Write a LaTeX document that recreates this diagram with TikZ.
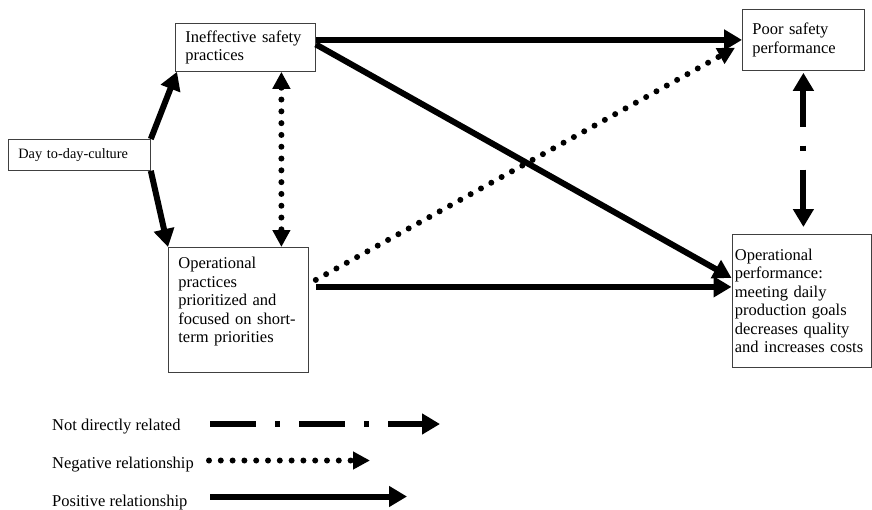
\documentclass[tikz,border=0pt]{standalone}
\usepackage{fontspec}
\setmainfont{Liberation Serif}
\usetikzlibrary{arrows.meta}

\begin{document}
\begin{tikzpicture}[x=1pt,y=-1pt,
  bigtri/.tip={Triangle[length=18pt,width=20pt]},
  dottri/.tip={Triangle[length=17pt,width=17pt]},
  box/.style={draw=black!75,line width=0.8pt,anchor=north west,align=left,inner ysep=2pt,
    font=\fontsize{16.5}{18.5}\selectfont},
  posarrow/.style={line width=6pt,-bigtri},
  negarrow/.style={line width=6pt,line cap=round,dash pattern=on 0pt off 11.8pt,-dottri},
  ndarrow/.style={line width=6pt,dash pattern=on 46pt off 19pt on 5pt off 19pt,-bigtri},
  legend/.style={anchor=base west,inner sep=0pt,font=\fontsize{16.5}{18.5}\selectfont}]
\useasboundingbox (0,0) rectangle (872,509);

% boxes
\node[box,inner xsep=10pt,text width=122pt,minimum height=31pt,font=\fontsize{14.3}{16}\selectfont] (culture) at (8,139) {Day to-day-culture};
\node[box,inner xsep=10pt,text width=120pt,minimum height=48pt] (ineff) at (175,23) {Ineffective safety\\practices};
\node[box,inner xsep=10pt,text width=120pt,minimum height=125pt] (opprac) at (168,247) {Operational\\practices\\prioritized and\\focused on short-\\term priorities\\[1pt]\mbox{}};
\node[box,inner xsep=10pt,text width=102pt,minimum height=61pt] (poorsafe) at (742,9) {Poor safety\\performance};
\node[box,inner xsep=3pt,text width=133pt,minimum height=133pt] (opperf) at (731.5,234) {Operational\\performance:\\meeting daily\\production goals\\decreases quality\\and increases costs};

% relations
\draw[posarrow] (culture.north east) -- ([xshift=2pt]ineff.south west);
\draw[posarrow] (culture.south east) -- (opprac.north west);
\draw[negarrow,dottri-dottri] ([xshift=36pt]ineff.south) -- ([xshift=36pt]ineff.south |- opprac.north);
\draw[posarrow] (ineff.east |- poorsafe.west) -- (poorsafe.west);
\draw[posarrow] ([yshift=3pt]ineff.east) -- ([yshift=23pt]opperf.west);
\draw[negarrow] ([xshift=7pt,yshift=30pt]opprac.east) -- ([xshift=-7pt,yshift=23pt]poorsafe.south west);
\draw[posarrow] ([xshift=7pt,yshift=23pt]opprac.east) -- ([yshift=23pt]opprac.east -| opperf.west);
\draw[ndarrow,bigtri-bigtri,dash phase=9pt] ([yshift=-2pt]poorsafe.south) -- ([yshift=7pt]poorsafe.south |- opperf.north);

% legend
\node[legend] (ndtext) at (52,430.5) {Not directly related};
\node[legend] (negtext) at (52,468) {Negative relationship};
\node[legend] (postext) at (52,506.5) {Positive relationship};
\coordinate (nda) at (210,424);
\coordinate (ndb) at (440,424);
\coordinate (nega) at (209,460.5);
\coordinate (negb) at (370,460.5);
\coordinate (posa) at (210,496.5);
\coordinate (posb) at (407,496.5);
\draw[ndarrow] (nda) -- (ndb);
\draw[negarrow] (nega) -- (negb);
\draw[posarrow] (posa) -- (posb);
\end{tikzpicture}
\end{document}
